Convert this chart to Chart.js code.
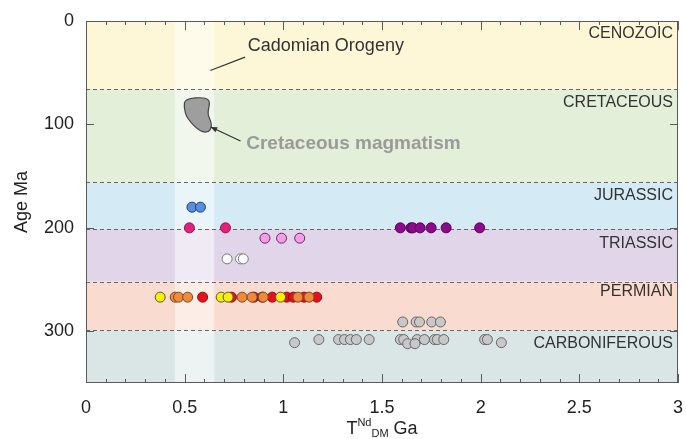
<!DOCTYPE html>
<html>
<head>
<meta charset="utf-8">
<script src="https://cdn.jsdelivr.net/npm/chart.js@4.4.1/dist/chart.umd.min.js"></script>
<style>
body { margin: 0; background: #fff; }
</style>
</head>
<body>
<canvas id="myChart" width="686" height="439"></canvas>
<script>
// geologic periods (Ma)
const periods = ['CENOZOIC', 'CRETACEOUS', 'JURASSIC', 'TRIASSIC', 'PERMIAN', 'CARBONIFEROUS'];
const periodStart = [0, 66, 156, 201, 252, 299];
const periodEnd = [66, 156, 201, 252, 299, 350];
const periodColors = ['#fdf6d7', '#e3efd9', '#d4eaf5', '#e0d5e9', '#fadbcf', '#dae6e5'];
const periodLabelAge = [12, 79, 169, 215, 262, 312];

const xTicks = [0, 0.5, 1, 1.5, 2, 2.5, 3];
const xTickLabels = ['0', '0.5', '1', '1.5', '2', '2.5', '3'];
const yTicks = [0, 100, 200, 300];

// TDM (Ga) vs age (Ma)
const blueX = [0.537, 0.58];
const blueAge = [180, 180];
const magentaX = [0.524, 0.707];
const magentaAge = [200, 200];
const pinkX = [0.907, 0.991, 1.083];
const pinkAge = [210, 210, 210];
const whiteX = [0.715, 0.783, 0.797];
const whiteAge = [230, 230, 230];
const purpleX = [1.593, 1.647, 1.656, 1.693, 1.749, 1.825, 1.995];
const purpleAge = [200, 200, 200, 200, 200, 200, 200];
const yellowX = [0.376, 0.685, 0.72, 0.986];
const yellowAge = [267, 267, 267, 267];
const orangeX = [0.452, 0.469, 0.515, 0.791, 0.842, 0.898, 1.074, 1.13];
const orangeAge = [267, 267, 267, 267, 267, 267, 267, 267];
const redX = [0.591, 0.737, 0.851, 0.893, 0.944, 1.017, 1.051, 1.105, 1.169];
const redAge = [267, 267, 267, 267, 267, 267, 267, 267, 267];
const greyX = [1.605, 1.673, 1.69, 1.752, 1.796,
  1.057, 1.18, 1.28, 1.31, 1.34, 1.37, 1.435, 1.593, 1.61, 1.678, 1.715, 1.766, 1.78, 1.813, 2.02, 2.034,
  1.63, 1.667, 2.105];
const greyAge = [291, 291, 291, 291, 291,
  311, 308, 308, 308, 308, 308, 308, 308, 308, 308, 308, 308, 308, 308, 308, 308,
  312, 312, 311];

// Cretaceous magmatism field outline (Ga, Ma)
const blobX = [0.503, 0.605, 0.630, 0.614, 0.639, 0.627, 0.580, 0.512, 0.495];
const blobAge = [75.2, 73.6, 78.5, 89.7, 99.3, 107.4, 107.4, 94.5, 83.3];

const FONT = '"Liberation Sans", Arial, sans-serif';

function serie(xs, ages, fill, border) {
    return {
        data: xs.map((x, i) => ({ x: x, y: ages[i] })),
        backgroundColor: fill,
        borderColor: border,
        borderWidth: 1,
        pointRadius: 5,
        pointHoverRadius: 5
    };
}

const annotations = {
    id: 'annotations',
    beforeDatasetsDraw(chart) {
        const ctx = chart.ctx;
        const a = chart.chartArea;
        const x = chart.scales.x, y = chart.scales.y;
        ctx.save();
        for (let i = 0; i < periods.length; i++) {
            const y0 = y.getPixelForValue(periodStart[i]);
            const y1 = y.getPixelForValue(periodEnd[i]);
            ctx.fillStyle = periodColors[i];
            ctx.fillRect(a.left, y0, a.right - a.left, y1 - y0);
        }
        // Cadomian band
        const bx0 = x.getPixelForValue(0.45), bx1 = x.getPixelForValue(0.65);
        ctx.fillStyle = 'rgba(255,255,255,0.5)';
        ctx.fillRect(bx0, a.top, bx1 - bx0, a.bottom - a.top);
        // boundaries
        ctx.strokeStyle = '#666';
        ctx.lineWidth = 1;
        ctx.setLineDash([4, 3]);
        for (let i = 1; i < periods.length; i++) {
            const py = Math.round(y.getPixelForValue(periodStart[i])) + 0.5;
            ctx.beginPath();
            ctx.moveTo(a.left, py);
            ctx.lineTo(a.right, py);
            ctx.stroke();
        }
        ctx.setLineDash([]);
        // period names
        ctx.font = '16px ' + FONT;
        ctx.fillStyle = '#333';
        ctx.textAlign = 'right';
        ctx.textBaseline = 'middle';
        for (let i = 0; i < periods.length; i++) {
            ctx.fillText(periods[i], a.right - 5, y.getPixelForValue(periodLabelAge[i]));
        }
        // magmatism field
        const pts = blobX.map((v, i) => [x.getPixelForValue(v), y.getPixelForValue(blobAge[i])]);
        ctx.beginPath();
        const n = pts.length;
        let m0 = [(pts[n - 1][0] + pts[0][0]) / 2, (pts[n - 1][1] + pts[0][1]) / 2];
        ctx.moveTo(m0[0], m0[1]);
        for (let i = 0; i < n; i++) {
            const p = pts[i], q = pts[(i + 1) % n];
            ctx.quadraticCurveTo(p[0], p[1], (p[0] + q[0]) / 2, (p[1] + q[1]) / 2);
        }
        ctx.closePath();
        ctx.fillStyle = '#9e9e9e';
        ctx.fill();
        ctx.strokeStyle = '#444';
        ctx.lineWidth = 1.2;
        ctx.stroke();
        // arrow to field
        const ax0 = x.getPixelForValue(0.783), ay0 = y.getPixelForValue(116);
        const ax1 = x.getPixelForValue(0.632), ay1 = y.getPixelForValue(102.5);
        ctx.strokeStyle = '#333';
        ctx.lineWidth = 1.3;
        ctx.beginPath();
        ctx.moveTo(ax0, ay0);
        ctx.lineTo(ax1, ay1);
        ctx.stroke();
        const ang = Math.atan2(ay1 - ay0, ax1 - ax0);
        ctx.fillStyle = '#333';
        ctx.beginPath();
        ctx.moveTo(ax1, ay1);
        ctx.lineTo(ax1 - 7 * Math.cos(ang - 0.4), ay1 - 7 * Math.sin(ang - 0.4));
        ctx.lineTo(ax1 - 7 * Math.cos(ang + 0.4), ay1 - 7 * Math.sin(ang + 0.4));
        ctx.closePath();
        ctx.fill();
        ctx.font = 'bold 19px ' + FONT;
        ctx.fillStyle = '#9a9a9a';
        ctx.textAlign = 'left';
        ctx.fillText('Cretaceous magmatism', x.getPixelForValue(0.812), y.getPixelForValue(119));
        // Cadomian label
        ctx.strokeStyle = '#333';
        ctx.lineWidth = 1.2;
        ctx.beginPath();
        ctx.moveTo(x.getPixelForValue(0.63), y.getPixelForValue(47.8));
        ctx.lineTo(x.getPixelForValue(0.806), y.getPixelForValue(34.9));
        ctx.stroke();
        ctx.font = '18px ' + FONT;
        ctx.fillStyle = '#333';
        ctx.fillText('Cadomian Orogeny', x.getPixelForValue(0.82), y.getPixelForValue(24.6));
        ctx.restore();
    },
    afterDraw(chart) {
        const ctx = chart.ctx;
        const a = chart.chartArea;
        const x = chart.scales.x, y = chart.scales.y;
        ctx.save();
        ctx.strokeStyle = '#5a5a5a';
        ctx.lineWidth = 1;
        ctx.strokeRect(Math.round(a.left) + 0.5, Math.round(a.top) + 0.5,
            Math.round(a.right - a.left) - 1, Math.round(a.bottom - a.top) - 1);
        // x ticks every 0.1, inward, top and bottom
        for (let k = 0; k <= 30; k++) {
            const px = Math.round(x.getPixelForValue(k / 10)) + 0.5;
            const len = k % 5 === 0 ? 9 : 4;
            ctx.beginPath();
            ctx.moveTo(px, a.bottom);
            ctx.lineTo(px, a.bottom - len);
            ctx.moveTo(px, a.top);
            ctx.lineTo(px, a.top + len);
            ctx.stroke();
        }
        // y ticks, inward on both sides
        for (const v of yTicks) {
            const py = Math.round(y.getPixelForValue(v)) + 0.5;
            ctx.beginPath();
            ctx.moveTo(a.left, py);
            ctx.lineTo(a.left + 8, py);
            ctx.moveTo(a.right, py);
            ctx.lineTo(a.right - 8, py);
            ctx.stroke();
        }
        // x title: T^Nd_DM Ga
        const base = 434;
        ctx.fillStyle = '#222';
        ctx.textBaseline = 'alphabetic';
        ctx.textAlign = 'left';
        ctx.font = '18px ' + FONT;
        const wT = ctx.measureText('T').width;
        const wGa = ctx.measureText(' Ga').width;
        ctx.font = '11px ' + FONT;
        const wNd = ctx.measureText('Nd').width;
        const wDM = ctx.measureText('DM').width;
        const total = wT + wNd + wDM + wGa;
        let cx = (a.left + a.right) / 2 - total / 2;
        ctx.font = '18px ' + FONT;
        ctx.fillText('T', cx, base);
        cx += wT;
        ctx.font = '11px ' + FONT;
        ctx.fillText('Nd', cx, base - 8);
        cx += wNd;
        ctx.fillText('DM', cx, base + 3);
        cx += wDM;
        ctx.font = '18px ' + FONT;
        ctx.fillText(' Ga', cx, base);
        ctx.restore();
    }
};

const ctx = document.getElementById('myChart').getContext('2d');
const myChart = new Chart(ctx, {
    type: 'scatter',
    data: {
        datasets: [
            serie(blueX, blueAge, '#5a8de0', '#1f3d7a'),
            serie(magentaX, magentaAge, '#e3217a', '#9a1050'),
            serie(pinkX, pinkAge, '#f59ee8', '#6a2a6a'),
            serie(whiteX, whiteAge, '#ffffff', '#777777'),
            serie(purpleX, purpleAge, '#8c0a8c', '#5a005a'),
            serie(yellowX, yellowAge, '#f7f000', '#555555'),
            serie(orangeX, orangeAge, '#f08a3a', '#7a4a2a'),
            serie(redX, redAge, '#e8101a', '#8a1010'),
            serie(greyX, greyAge, '#c8c8c8', '#666666')
        ]
    },
    options: {
        responsive: false,
        animation: false,
        events: [],
        layout: { padding: { top: 21, right: 8, left: 0, bottom: 0 } },
        plugins: {
            legend: { display: false },
            tooltip: { enabled: false }
        },
        scales: {
            x: {
                type: 'linear',
                position: 'bottom',
                min: 0,
                max: 3,
                afterBuildTicks: (s) => { s.ticks = xTicks.map(v => ({ value: v })); },
                afterFit: (s) => { s.height = 56; s.paddingLeft = 0; s.paddingRight = 0; },
                ticks: {
                    font: { size: 18, family: FONT },
                    color: '#222',
                    padding: 14,
                    maxRotation: 0,
                    callback: (v) => xTickLabels[xTicks.indexOf(v)]
                },
                grid: { display: false, drawTicks: false },
                border: { display: false }
            },
            y: {
                type: 'linear',
                position: 'left',
                min: 0,
                max: 350,
                reverse: true,
                afterBuildTicks: (s) => { s.ticks = yTicks.map(v => ({ value: v })); },
                afterFit: (s) => { s.width = 86; s.paddingTop = 0; s.paddingBottom = 0; },
                ticks: {
                    font: { size: 18, family: FONT },
                    color: '#222',
                    padding: 12,
                    callback: (v) => String(v)
                },
                grid: { display: false, drawTicks: false },
                border: { display: false },
                title: {
                    display: true,
                    text: 'Age Ma',
                    font: { size: 18, family: FONT },
                    color: '#222',
                    padding: { top: 11, bottom: 0 }
                }
            }
        }
    },
    plugins: [annotations]
});
</script>
</body>
</html>
